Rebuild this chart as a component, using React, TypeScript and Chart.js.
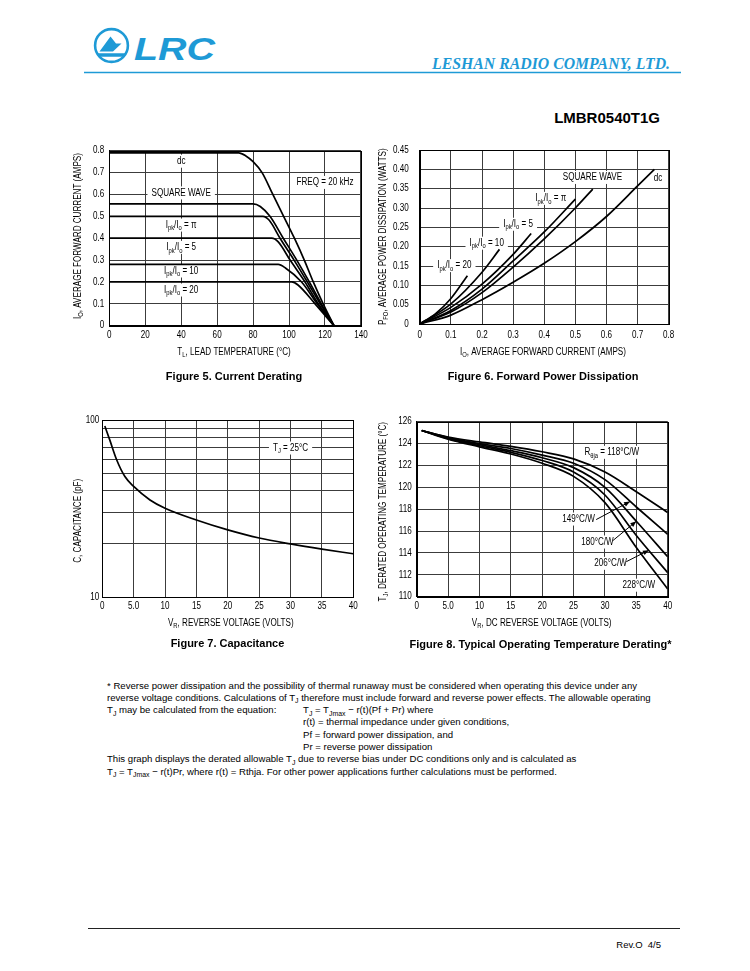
import React, { useEffect, useRef } from 'react';
import { Chart, registerables } from 'chart.js';

Chart.register(...registerables);

const SANS = "'Liberation Sans', Arial, Helvetica, sans-serif";
const SERIF = "'Liberation Serif', 'Times New Roman', serif";
const BLUE = '#1e9ad6';
const GRID = '#3c3c3c';
const SX = 0.81; // horizontal condensing of chart lettering (narrow Helvetica look)

// ---------------- Figure 5: Current Derating (TL in °C, IO in A) ----------------
const f5DcT = [0, 72, 76, 80, 85, 91, 97, 103, 108.5, 113.5, 119, 125];
const f5DcI = [0.79, 0.79, 0.776, 0.75, 0.7, 0.6, 0.5, 0.4, 0.3, 0.2, 0.1, 0];
const f5SqT = [0, 80, 84, 89.4, 96.8, 104.3, 111.3, 118, 125];
const f5SqI = [0.557, 0.557, 0.545, 0.5, 0.4, 0.3, 0.2, 0.1, 0];
const f5PiT = [0, 85.5, 89, 95, 102.8, 110.2, 117.4, 125];
const f5PiI = [0.5, 0.5, 0.482, 0.4, 0.3, 0.2, 0.1, 0];
const f5R5T = [0, 90.4, 94, 100.6, 108.9, 116.3, 125];
const f5R5I = [0.4, 0.4, 0.383, 0.3, 0.2, 0.1, 0];
const f5R10T = [0, 94, 98, 107, 115.7, 125];
const f5R10I = [0.28, 0.28, 0.264, 0.2, 0.1, 0];
const f5R20T = [0, 101.5, 105, 114.5, 125];
const f5R20I = [0.2, 0.2, 0.186, 0.1, 0];

// ---------------- Figure 6: Forward Power Dissipation (IO in A, PFO in W) ----------------
const f6DcI = [0, 0.1, 0.2, 0.3, 0.4, 0.5, 0.6, 0.7, 0.754];
const f6DcP = [0, 0.023, 0.063, 0.108, 0.157, 0.213, 0.278, 0.357, 0.4];
const f6SqI = [0, 0.1, 0.2, 0.3, 0.4, 0.5, 0.556];
const f6SqP = [0, 0.031, 0.081, 0.147, 0.22, 0.3, 0.349];
const f6PiI = [0, 0.1, 0.2, 0.3, 0.4, 0.5];
const f6PiP = [0, 0.035, 0.09, 0.163, 0.238, 0.323];
const f6R5I = [0, 0.1, 0.2, 0.3, 0.358];
const f6R5P = [0, 0.043, 0.103, 0.18, 0.234];
const f6R10I = [0, 0.1, 0.2, 0.256];
const f6R10P = [0, 0.052, 0.134, 0.193];
const f6R20I = [0, 0.05, 0.1, 0.153];
const f6R20P = [0, 0.026, 0.066, 0.125];

// ---------------- Figure 7: Capacitance (VR in V, C in pF) ----------------
const f7V = [0.4, 1.2, 2.3, 3.6, 5, 7.6, 10, 15, 20, 25, 30, 35, 40];
const f7C = [92.5, 77, 59.5, 48, 42.2, 35.4, 31.8, 27.3, 24.0, 21.6, 20.0, 18.7, 17.6];
const f7GridC = [10, 20, 30, 40, 50, 60, 70, 80, 90, 100];

// ---------------- Figure 8: Operating Temperature Derating (VR in V, TJ in °C) ----------------
const f8V = [0.8, 5, 10, 15, 20, 25, 30, 35, 40];
const f8R118 = [125.2, 124.6, 124.15, 123.75, 123.25, 122.6, 121.4, 119.6, 117.7];
const f8R149 = [125.2, 124.55, 124.0, 123.55, 122.95, 122.2, 120.7, 118.2, 115.7];
const f8R180 = [125.2, 124.5, 123.9, 123.35, 122.7, 121.8, 120.0, 116.9, 113.65];
const f8R206 = [125.2, 124.45, 123.8, 123.2, 122.45, 121.4, 119.3, 115.6, 112.2];
const f8R228 = [125.2, 124.4, 123.7, 123.05, 122.2, 121.0, 118.6, 114.5, 110.7];

// ---------------- rich text helpers ----------------
type Seg = [string, number?];
const ratio = (n: string): Seg[] => [['I'], ['pk', 1], ['/I'], ['o', 1], [' = ' + n]];

function setFont(ctx: CanvasRenderingContext2D, size: number, weight = 'normal') {
  ctx.font = `${weight} ${size}px ${SANS}`;
}
function segsWidth(ctx: CanvasRenderingContext2D, segs: Seg[], size: number) {
  let w = 0;
  for (const [t, sub] of segs) {
    setFont(ctx, sub ? size * 0.72 : size);
    w += ctx.measureText(t).width;
  }
  return w * SX;
}
type Align = 'left' | 'center' | 'right';
function drawSegs(ctx: CanvasRenderingContext2D, segs: Seg[], x: number, y: number, size: number, rot = 0, align: Align = 'center') {
  const w = segsWidth(ctx, segs, size);
  ctx.save();
  ctx.translate(x, y);
  ctx.rotate(rot);
  ctx.scale(SX, 1);
  const wu = w / SX;
  let cx = align === 'left' ? 0 : align === 'center' ? -wu / 2 : -wu;
  ctx.textAlign = 'left';
  ctx.textBaseline = 'middle';
  ctx.fillStyle = '#000';
  for (const [t, sub] of segs) {
    setFont(ctx, sub ? size * 0.72 : size);
    ctx.fillText(t, cx, sub ? size * 0.32 : 0);
    cx += ctx.measureText(t).width;
  }
  ctx.restore();
  return w;
}

interface Lbl { x: number; y: number; segs: Seg[]; bg?: boolean }
interface Decor {
  labels: Lbl[];
  arrows?: [number, number, number, number][];
  xFmt: (v: number) => string; xGap: number;
  yFmt: (v: number) => string; yGap: number;
  yTitle: Seg[]; yTitlePos: [number, number];
  xTitle: Seg[]; xTitlePos: [number, number];
  caption: string; captionPos: [number, number];
}

const FS = 10;

function decorPlugin(d: Decor) {
  return {
    id: 'decor',
    beforeDatasetsDraw(chart: any) {
      const { ctx, scales } = chart;
      const xs = scales.x, ys = scales.y;
      ctx.save();
      for (const l of d.labels) {
        const px = xs.getPixelForValue(l.x), py = ys.getPixelForValue(l.y);
        const w = segsWidth(ctx, l.segs, FS);
        if (l.bg) {
          ctx.fillStyle = '#fff';
          ctx.fillRect(px - w / 2 - 4, py - 6.5, w + 8, 13);
        }
        drawSegs(ctx, l.segs, px, py, FS);
      }
      ctx.restore();
    },
    afterDatasetsDraw(chart: any) {
      const { ctx, scales, chartArea: a } = chart;
      const xs = scales.x, ys = scales.y;
      ctx.save();
      ctx.strokeStyle = '#000';
      ctx.lineWidth = 1;
      ctx.strokeRect(Math.round(a.left) + 0.5, Math.round(a.top) + 0.5, Math.round(a.right) - Math.round(a.left), Math.round(a.bottom) - Math.round(a.top));
      for (const [x1, y1, x2, y2] of d.arrows || []) {
        const ax = xs.getPixelForValue(x1), ay = ys.getPixelForValue(y1);
        const bx = xs.getPixelForValue(x2), by = ys.getPixelForValue(y2);
        ctx.beginPath();
        ctx.moveTo(ax, ay);
        ctx.lineTo(bx, by);
        ctx.stroke();
        const ang = Math.atan2(by - ay, bx - ax);
        ctx.beginPath();
        ctx.moveTo(bx, by);
        ctx.lineTo(bx - 6 * Math.cos(ang) + 2.4 * Math.sin(ang), by - 6 * Math.sin(ang) - 2.4 * Math.cos(ang));
        ctx.lineTo(bx - 6 * Math.cos(ang) - 2.4 * Math.sin(ang), by - 6 * Math.sin(ang) + 2.4 * Math.cos(ang));
        ctx.closePath();
        ctx.fillStyle = '#000';
        ctx.fill();
      }
      ctx.restore();
    },
    afterDraw(chart: any) {
      const { ctx, scales, chartArea: a } = chart;
      const xs = scales.x, ys = scales.y;
      ctx.save();
      // tick labels, placed by the chart's own scales
      for (const t of xs.ticks) {
        const s = d.xFmt(t.value);
        if (s) drawSegs(ctx, [[s]], xs.getPixelForValue(t.value), a.bottom + d.xGap, FS);
      }
      for (const t of ys.ticks) {
        const s = d.yFmt(t.value);
        if (s) drawSegs(ctx, [[s]], a.left - d.yGap, ys.getPixelForValue(t.value), FS, 0, 'right');
      }
      drawSegs(ctx, d.yTitle, d.yTitlePos[0], d.yTitlePos[1], FS, -Math.PI / 2);
      drawSegs(ctx, d.xTitle, d.xTitlePos[0], d.xTitlePos[1], FS);
      ctx.font = `bold 11px ${SANS}`;
      ctx.textAlign = 'center';
      ctx.textBaseline = 'middle';
      ctx.fillStyle = '#000';
      ctx.fillText(d.caption, d.captionPos[0], d.captionPos[1]);
      ctx.restore();
    },
  };
}

// ---------------- chart builders ----------------
const line = (xs: number[], ys: number[]) => ({
  data: xs.map((x, i) => ({ x, y: ys[i] })),
  borderColor: '#000',
  borderWidth: 1.7,
  pointRadius: 0,
  fill: false,
  cubicInterpolationMode: 'monotone' as const,
});

function axis(kind: 'x' | 'y', min: number, max: number, step: number, size: number, type = 'linear') {
  return {
    type,
    min, max,
    position: kind === 'x' ? 'bottom' : 'left',
    ticks: { stepSize: step, autoSkip: false, maxRotation: 0, display: false },
    grid: { color: GRID, lineWidth: 1, drawTicks: false },
    border: { color: '#000', width: 1 },
    afterFit: (s: any) => { if (kind === 'x') s.height = size; else s.width = size; },
  };
}

function baseOptions(top: number, right: number, x: any, y: any) {
  return {
    responsive: false,
    animation: false,
    events: [],
    layout: { padding: { left: 0, top, right, bottom: 0 } },
    plugins: { legend: { display: false }, tooltip: { enabled: false }, title: { display: false } },
    scales: { x, y },
  };
}

const vFmt = (v: number) => (v === 5 ? '5.0' : String(v));

function buildFig5() {
  return {
    type: 'line',
    data: { datasets: [line(f5DcT, f5DcI), line(f5SqT, f5SqI), line(f5PiT, f5PiI), line(f5R5T, f5R5I), line(f5R10T, f5R10I), line(f5R20T, f5R20I)] },
    options: baseOptions(10.7, 9.1, axis('x', 0, 140, 20, 64.3), axis('y', 0, 0.8, 0.1, 49.3)),
    plugins: [decorPlugin({
      labels: [
        { x: 40, y: 0.752, segs: [['dc']], bg: true },
        { x: 40, y: 0.607, segs: [['SQUARE WAVE']], bg: true },
        { x: 40, y: 0.46, segs: ratio('π'), bg: true },
        { x: 40, y: 0.358, segs: ratio('5'), bg: true },
        { x: 40, y: 0.25, segs: ratio('10'), bg: true },
        { x: 40, y: 0.163, segs: ratio('20'), bg: true },
        { x: 120, y: 0.655, segs: [['FREQ = 20 kHz']], bg: true },
      ],
      xFmt: (v) => String(Math.round(v)), xGap: 10,
      yFmt: (v) => (Math.abs(v) < 1e-9 ? '0' : v.toFixed(1)), yGap: 5,
      yTitle: [['I'], ['O', 1], [', AVERAGE FORWARD CURRENT (AMPS)']], yTitlePos: [18.3, 96],
      xTitle: [['T'], ['L', 1], [', LEAD TEMPERATURE (°C)']], xTitlePos: [174, 212],
      caption: 'Figure 5. Current Derating', captionPos: [174, 237.3],
    })],
  };
}

function buildFig6() {
  return {
    type: 'line',
    data: { datasets: [line(f6DcI, f6DcP), line(f6SqI, f6SqP), line(f6PiI, f6PiP), line(f6R5I, f6R5P), line(f6R10I, f6R10P), line(f6R20I, f6R20P)] },
    options: baseOptions(10, 11.3, axis('x', 0, 0.8, 0.1, 66), axis('y', 0, 0.45, 0.05, 49.8)),
    plugins: [decorPlugin({
      labels: [
        { x: 0.555, y: 0.379, segs: [['SQUARE WAVE']], bg: true },
        { x: 0.766, y: 0.377, segs: [['dc']], bg: true },
        { x: 0.421, y: 0.325, segs: ratio('π'), bg: true },
        { x: 0.316, y: 0.258, segs: ratio('5'), bg: true },
        { x: 0.215, y: 0.209, segs: ratio('10'), bg: true },
        { x: 0.111, y: 0.151, segs: ratio('20'), bg: true },
      ],
      xFmt: (v) => (Math.abs(v) < 1e-9 ? '0' : v.toFixed(1)), xGap: 11,
      yFmt: (v) => (Math.abs(v) < 1e-9 ? '0' : v.toFixed(2)), yGap: 11,
      yTitle: [['P'], ['FO', 1], [', AVERAGE POWER DISSIPATION (WATTS)']], yTitlePos: [13.3, 96.7],
      xTitle: [['I'], ['O', 1], [', AVERAGE FORWARD CURRENT (AMPS)']], xTitlePos: [173, 212.3],
      caption: 'Figure 6. Forward Power Dissipation', captionPos: [173, 237.3],
    })],
  };
}

function buildFig7() {
  const y: any = axis('y', 10, 100, 10, 42.3, 'logarithmic');
  y.afterBuildTicks = (s: any) => { s.ticks = f7GridC.map((v) => ({ value: v })); };
  return {
    type: 'line',
    data: { datasets: [line(f7V, f7C)] },
    options: baseOptions(10, 16.7, axis('x', 0, 40, 5, 62.7), y),
    plugins: [decorPlugin({
      labels: [{ x: 30, y: 69.5, segs: [['T'], ['J', 1], [' = 25°C']], bg: true }],
      xFmt: vFmt, xGap: 9.4,
      yFmt: (v) => (v === 10 || v === 100 ? String(v) : ''), yGap: 3,
      yTitle: [['C, CAPACITANCE (pF)']], yTitlePos: [18.3, 110.8],
      xTitle: [['V'], ['R', 1], [', REVERSE VOLTAGE (VOLTS)']], xTitlePos: [170.8, 213.3],
      caption: 'Figure 7. Capacitance', captionPos: [167.5, 234.3],
    })],
  };
}

function buildFig8() {
  return {
    type: 'line',
    data: { datasets: [line(f8V, f8R118), line(f8V, f8R149), line(f8V, f8R180), line(f8V, f8R206), line(f8V, f8R228)] },
    options: baseOptions(11.7, 12.3, axis('x', 0, 40, 5, 63.3), axis('y', 110, 126, 2, 46.7)),
    plugins: [decorPlugin({
      labels: [
        { x: 31.1, y: 123.2, segs: [['R'], ['θja', 1], [' = 118°C/W']], bg: true },
        { x: 25.8, y: 117.1, segs: [['149°C/W']], bg: true },
        { x: 28.8, y: 115.0, segs: [['180°C/W']], bg: true },
        { x: 30.9, y: 113.05, segs: [['206°C/W']], bg: true },
        { x: 35.4, y: 111.05, segs: [['228°C/W']], bg: true },
      ],
      arrows: [
        [28.6, 117.05, 34.0, 118.7],
        [31.2, 115.1, 35.0, 116.9],
        [33.4, 113.2, 37.0, 114.25],
      ],
      xFmt: vFmt, xGap: 9.3,
      yFmt: (v) => String(Math.round(v)), yGap: 5,
      yTitle: [['T'], ['J', 1], [', DERATED OPERATING TEMPERATURE (°C)']], yTitlePos: [13.3, 101.7],
      xTitle: [['V'], ['R', 1], [', DC REVERSE VOLTAGE (VOLTS)']], xTitlePos: [171.7, 213.3],
      caption: 'Figure 8. Typical Operating Temperature Derating*', captionPos: [170.5, 235],
    })],
  };
}

function ChartBox({ build, left, top, width, height }: { build: () => any; left: number; top: number; width: number; height: number }) {
  const ref = useRef<HTMLCanvasElement | null>(null);
  useEffect(() => {
    if (!ref.current) return;
    const chart = new Chart(ref.current, build());
    return () => chart.destroy();
  }, [build]);
  return (
    <canvas ref={ref} width={width} height={height}
      style={{ position: 'absolute', left, top, width, height, display: 'block' }} />
  );
}

function SvgSegs({ x, y, segs, size }: { x: number; y: number; segs: Seg[]; size: number }) {
  let shifted = false;
  const parts = segs.map(([t, sub], i) => {
    if (sub) {
      const el = <tspan key={i} fontSize={size * 0.72} dy={shifted ? 0 : 2.5}>{t}</tspan>;
      shifted = true;
      return el;
    }
    const el = <tspan key={i} fontSize={size} dy={shifted ? -2.5 : 0}>{t}</tspan>;
    shifted = false;
    return el;
  });
  return <text x={x} y={y} fontFamily={SANS} fontSize={size} fill="#000" style={{ whiteSpace: 'pre' }}>{parts}</text>;
}

const FN = 9.6;
const noteLines: { x: number; segs: Seg[] }[] = [
  { x: 107, segs: [['* Reverse power dissipation and the possibility of thermal runaway must be considered when operating this device under any']] },
  { x: 107, segs: [['reverse voltage conditions. Calculations of T'], ['J', 1], [' therefore must include forward and reverse power effects. The allowable operating']] },
  { x: 107, segs: [['T'], ['J', 1], [' may be calculated from the equation:']] },
  { x: 303, segs: [['r(t) = thermal impedance under given conditions,']] },
  { x: 303, segs: [['Pf = forward power dissipation, and']] },
  { x: 303, segs: [['Pr = reverse power dissipation']] },
  { x: 107, segs: [['This graph displays the derated allowable T'], ['J', 1], [' due to reverse bias under DC conditions only and is calculated as']] },
  { x: 107, segs: [['T'], ['J', 1], [' = T'], ['Jmax', 1], [' − r(t)Pr, where r(t) = Rthja. For other power applications further calculations must be performed.']] },
];
const eqLine: Seg[] = [['T'], ['J', 1], [' = T'], ['Jmax', 1], [' − r(t)(Pf + Pr) where']];

export default function App() {
  return (
    <div style={{ position: 'absolute', left: 0, top: 0, width: 750, height: 971, background: '#fff', overflow: 'hidden' }}>
      <svg width={750} height={971} style={{ position: 'absolute', left: 0, top: 0 }}>
        <circle cx={111.5} cy={45.5} r={16.4} fill="none" stroke={BLUE} strokeWidth={2.6} />
        <path d="M99.5 51.5 L110.5 36.5 L116 43.5 L121.5 43.5 L113 51.5 Z" fill={BLUE} />
        <path d="M96.5 53.2 H127 L123.5 56.8 H100.5 Z" fill={BLUE} />
        <text x={134} y={60} fontFamily={SANS} fontWeight="bold" fontStyle="italic" fontSize={31} fill={BLUE} textLength={81} lengthAdjust="spacingAndGlyphs">LRC</text>
        <text x={432} y={69} fontFamily={SERIF} fontWeight="bold" fontStyle="italic" fontSize={16} fill={BLUE} textLength={238} lengthAdjust="spacingAndGlyphs">LESHAN RADIO COMPANY, LTD.</text>
        <line x1={84} y1={72.5} x2={681} y2={72.5} stroke={BLUE} strokeWidth={1.6} />
        <text x={660} y={123} textAnchor="end" fontFamily={SANS} fontWeight="bold" fontSize={15} fill="#000">LMBR0540T1G</text>
        {noteLines.map((l, i) => (
          <SvgSegs key={i} x={l.x} y={688.5 + 12.3 * i} segs={l.segs} size={FN} />
        ))}
        <SvgSegs x={303} y={688.5 + 12.3 * 2} segs={eqLine} size={FN} />
        <line x1={88} y1={928.5} x2={680} y2={928.5} stroke="#222" strokeWidth={1.2} />
        <text x={661} y={948} textAnchor="end" fontFamily={SANS} fontSize={9.5} fill="#000" style={{ whiteSpace: 'pre' }}>Rev.O  4/5</text>
      </svg>
      <ChartBox build={buildFig5} left={60} top={140} width={310} height={250} />
      <ChartBox build={buildFig6} left={370} top={140} width={310} height={250} />
      <ChartBox build={buildFig7} left={60} top={410} width={310} height={250} />
      <ChartBox build={buildFig8} left={370} top={410} width={310} height={250} />
    </div>
  );
}
